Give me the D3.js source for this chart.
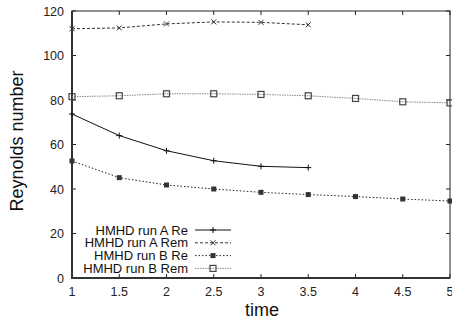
<!DOCTYPE html>
<html>
<head>
<meta charset="utf-8">
<script src="https://cdn.jsdelivr.net/npm/d3@7"></script>
<style>
  body { margin: 0; background: #fff; }
  svg { display: block; font-family: "Liberation Sans", Arial, sans-serif; }
</style>
</head>
<body>
<script>
// values
const timeA = [1, 1.5, 2, 2.5, 3, 3.5];
const timeB = [1, 1.5, 2, 2.5, 3, 3.5, 4, 4.5, 5];
const runARe = [73.7, 64.0, 57.2, 52.7, 50.2, 49.6];
const runARem = [112.0, 112.4, 114.2, 115.1, 114.9, 113.8];
const runBRe = [52.6, 45.1, 41.8, 40.0, 38.5, 37.5, 36.6, 35.5, 34.6];
const runBRem = [81.5, 81.9, 82.8, 82.8, 82.5, 81.9, 80.7, 79.2, 78.7];
const xTicks = [1, 1.5, 2, 2.5, 3, 3.5, 4, 4.5, 5];
const yTicks = [0, 20, 40, 60, 80, 100, 120];
const seriesNames = ["HMHD run A Re", "HMHD run A Rem", "HMHD run B Re", "HMHD run B Rem"];

const width = 452, height = 322;
const margin = ({top: 11, right: 2, bottom: 44, left: 72});

const x = d3.scaleLinear().domain([1, 5]).range([margin.left, width - margin.right]);
const y = d3.scaleLinear().domain([0, 120]).range([height - margin.bottom, margin.top]);

const series = [
  {name: seriesNames[0], xs: timeA, ys: runARe, color: "#111", dash: null, mark: "plus"},
  {name: seriesNames[1], xs: timeA, ys: runARem, color: "#333", dash: "3,2", mark: "cross"},
  {name: seriesNames[2], xs: timeB, ys: runBRe, color: "#222", dash: "1.5,2", mark: "fsquare"},
  {name: seriesNames[3], xs: timeB, ys: runBRem, color: "#888", dash: "1.5,1", mark: "osquare"}
];

const svg = d3.select("body").append("svg")
  .attr("width", width)
  .attr("height", height);

// ticks (inward, mirrored)
const tl = 4;
const tg = svg.append("g").attr("stroke", "#222").attr("stroke-width", 1);
xTicks.forEach(function(t) {
  tg.append("line").attr("x1", x(t)).attr("x2", x(t)).attr("y1", y(0)).attr("y2", y(0) - tl);
  tg.append("line").attr("x1", x(t)).attr("x2", x(t)).attr("y1", y(120)).attr("y2", y(120) + tl);
});
yTicks.forEach(function(t) {
  tg.append("line").attr("x1", x(1)).attr("x2", x(1) + tl).attr("y1", y(t)).attr("y2", y(t));
  tg.append("line").attr("x1", x(5)).attr("x2", x(5) - tl).attr("y1", y(t)).attr("y2", y(t));
});

// frame
svg.append("rect")
  .attr("x", x(1)).attr("y", y(120))
  .attr("width", x(5) - x(1)).attr("height", y(0) - y(120))
  .attr("fill", "none").attr("stroke", "#222").attr("stroke-width", 1);
svg.append("path")
  .attr("d", `M${x(1)},${y(120)}V${y(0)}H${x(5)}`)
  .attr("fill", "none").attr("stroke", "#333").attr("stroke-width", 2);

// tick labels
svg.append("g").selectAll("text").data(xTicks).join("text")
  .attr("x", d => x(d)).attr("y", y(0) + 18)
  .attr("text-anchor", "middle").attr("font-size", 12.5).attr("fill", "#222")
  .text(d => d);
svg.append("g").selectAll("text").data(yTicks).join("text")
  .attr("x", x(1) - 8).attr("y", d => y(d) + 4.5)
  .attr("text-anchor", "end").attr("font-size", 12.5).attr("fill", "#222")
  .text(d => d);

// axis titles
svg.append("text")
  .attr("x", (x(1) + x(5)) / 2 + 1).attr("y", 316)
  .attr("text-anchor", "middle").attr("font-size", 18).attr("fill", "#111")
  .text("time");
svg.append("text")
  .attr("transform", `translate(23,141) rotate(-90)`)
  .attr("text-anchor", "middle").attr("font-size", 18).attr("fill", "#111")
  .text("Reynolds number");

function marker(g, kind, cx, cy, color) {
  if (kind === "plus") {
    g.append("path").attr("d", `M${cx - 3},${cy}H${cx + 3}M${cx},${cy - 3}V${cy + 3}`)
      .attr("stroke", color).attr("stroke-width", 1);
  } else if (kind === "cross") {
    g.append("path").attr("d", `M${cx - 2.5},${cy - 2.5}L${cx + 2.5},${cy + 2.5}M${cx - 2.5},${cy + 2.5}L${cx + 2.5},${cy - 2.5}`)
      .attr("stroke", color).attr("stroke-width", 1);
  } else if (kind === "fsquare") {
    g.append("rect").attr("x", cx - 2.5).attr("y", cy - 2.5).attr("width", 5).attr("height", 5)
      .attr("fill", "#333");
  } else {
    g.append("rect").attr("x", cx - 3).attr("y", cy - 3).attr("width", 6).attr("height", 6)
      .attr("fill", "none").attr("stroke", "#444").attr("stroke-width", 1.2);
  }
}

const line = d3.line().x(d => x(d[0])).y(d => y(d[1]));

series.forEach(function(s) {
  const pts = s.xs.map((v, i) => [v, s.ys[i]]);
  svg.append("path")
    .datum(pts)
    .attr("d", line)
    .attr("fill", "none")
    .attr("stroke", s.color)
    .attr("stroke-width", 1)
    .attr("stroke-dasharray", s.dash);
  const g = svg.append("g");
  pts.forEach(p => marker(g, s.mark, x(p[0]), y(p[1]), s.color));
});

// legend
const legY = [230, 242.8, 255.6, 268.4];
series.forEach(function(s, i) {
  svg.append("text")
    .attr("x", 188).attr("y", legY[i] + 4.5)
    .attr("text-anchor", "end").attr("font-size", 13).attr("fill", "#111")
    .text(s.name);
  svg.append("line")
    .attr("x1", 195).attr("x2", 231).attr("y1", legY[i]).attr("y2", legY[i])
    .attr("stroke", s.color).attr("stroke-width", 1)
    .attr("stroke-dasharray", s.dash);
  marker(svg, s.mark, 213, legY[i], s.color);
});
</script>
</body>
</html>
